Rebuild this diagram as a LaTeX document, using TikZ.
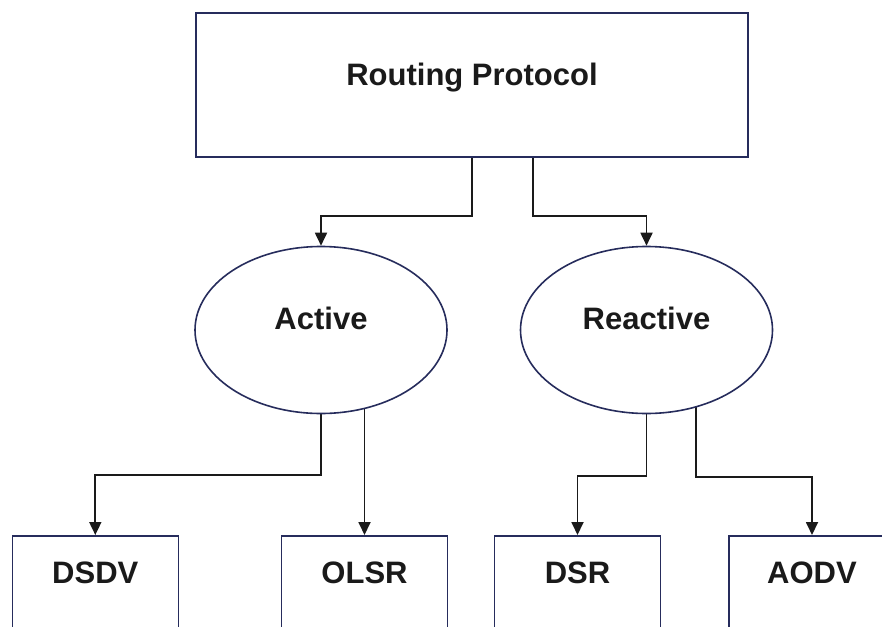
\documentclass[tikz,border=0pt]{standalone}
\usepackage{fontspec}
\setmainfont{Liberation Sans}
\usetikzlibrary{arrows.meta,shapes.geometric,calc,backgrounds}
\definecolor{edgecol}{RGB}{38,44,92}
\definecolor{ink}{RGB}{26,26,26}
\begin{document}
\begin{tikzpicture}[x=1pt,y=-1pt,
  lab/.style={font=\fontsize{31}{37}\selectfont\bfseries, text=ink},
  box/.style={draw=edgecol, line width=1.6pt, rectangle, lab, inner xsep=0pt},
  oval/.style={draw=edgecol, line width=1.6pt, ellipse, fill=white, lab,
    minimum width=252pt, minimum height=167pt, inner sep=0pt,
    text height=22pt, text depth=24pt},
  leaf/.style={box, minimum width=166pt, text height=22pt, text depth=26pt,
    inner ysep=26pt, anchor=north},
  conn/.style={draw=ink, line width=1.8pt, -{Triangle[width=12pt,length=13pt]}}]
\useasboundingbox (0,0) rectangle (882,626);
\clip (0,0) rectangle (882,626);

\node[box, minimum width=552pt, text height=22pt, text depth=22pt, inner ysep=50pt] (top) at (472,85) {Routing Protocol};

\node[oval] (act) at (321,330) {Active};
\node[oval] (react) at (646.5,330) {Reactive};

\node[leaf] (dsdv) at (95.3,535) {DSDV};
\node[leaf] (olsr) at (364.5,535) {OLSR};
\node[leaf] (dsr) at (577.5,535) {DSR};
\node[leaf] (aodv) at (812,535) {AODV};

\begin{scope}[on background layer]
\draw[conn] (top.south) -- ++(0,58) -| (act.north);
\draw[conn] ($(top.south)+(61,0)$) -- ++(0,58) -| (react.north);
\draw[conn] (act.south) -- ++(0,61) -| (dsdv.north);
\draw[conn] (act.center -| olsr.north) -- (olsr.north);
\draw[conn] (react.south) -- ++(0,62) -| (dsr.north);
\draw[conn] ($(react.center)+(49.5,0)$) -- ($(react.south)+(49.5,63)$) -| (aodv.north);
\end{scope}
\end{tikzpicture}
\end{document}
